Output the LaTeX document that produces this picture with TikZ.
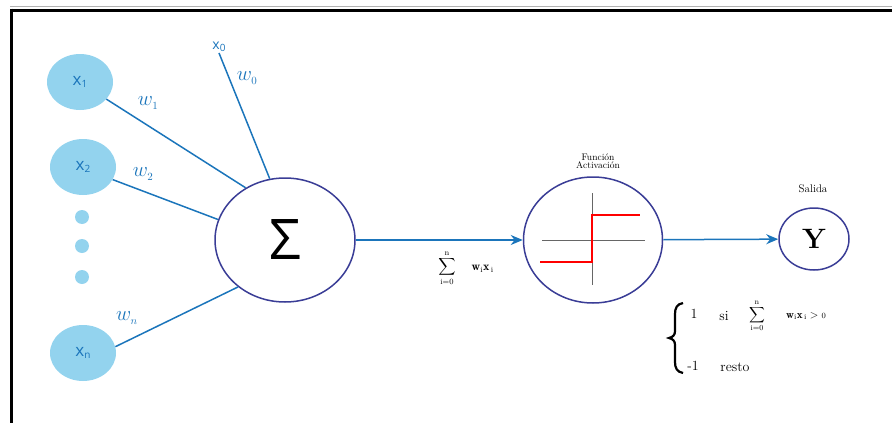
\documentclass[tikz,border=0pt]{standalone}
\usepackage{fontspec}
\usepackage{amsmath}
\usetikzlibrary{shapes.geometric, arrows.meta}
\newfontfamily\lblfont{Open Sans}
\definecolor{inblue}{HTML}{93D3EE}
\definecolor{lnblue}{HTML}{1B75BB}
\definecolor{cirblue}{HTML}{3A3D96}
\newcommand{\entx}[1]{x\raisebox{-2.5pt}{\fontsize{10}{10}\selectfont #1}}
\newcommand{\sumat}{\displaystyle\sum_{\mathrm{i=0}}^{\mathrm{n}}}
\newcommand{\wx}{\mathbf{w}_{\mathrm{i}}\mathbf{x}_{\mathrm{\,i}}}

\begin{document}
\begin{tikzpicture}[x=1pt, y=-1pt, >={Stealth[length=12pt, width=10pt]}, every node/.style={font=\small},
    entrada/.style={ellipse, fill=inblue, minimum width=66pt, minimum height=56pt, inner sep=0pt,
      text=lnblue, font=\lblfont\fontsize{17}{17}\selectfont},
    nodo/.style={ellipse, draw=cirblue, line width=1.5pt, inner sep=0pt},
    peso/.style={text=lnblue, font=\fontsize{22}{22}\selectfont},
    enlace/.style={lnblue, line width=1.5pt},
    rotulo/.style={font=\fontsize{9.5}{9}\selectfont, align=center},
    regla/.style={font=\fontsize{14}{14}\selectfont, inner sep=1pt}]

    \useasboundingbox (0,0) rectangle (892,423);

    % marco
    \draw[gray!60, line width=1.2pt] (10,6.5) -- (892,6.5);
    \draw[black, line width=3pt] (10,10) -- (892,10);
    \draw[black, line width=3pt] (11.5,8.5) -- (11.5,423);

    % entradas
    \node[entrada] (x1) at (80,82) {\entx{1}};
    \node[entrada] (x2) at (83,167) {\entx{2}};
    \node[entrada] (xn) at (83,353) {\entx{n}};
    \foreach \yy in {217,246,277}
      \fill[inblue] (82,\yy) circle (7pt);
    \node[text=lnblue, font=\lblfont\fontsize{14}{14}\selectfont, inner sep=1pt] (x0) at (219,47)
      {x\raisebox{-2pt}{\fontsize{10}{10}\selectfont 0}};

    % sumatorio, activacion y salida
    \node[nodo, minimum width=140pt, minimum height=124pt] (suma) at (285,240)
      {\lblfont\fontsize{56}{56}\selectfont Σ};
    \node[nodo, minimum width=139pt, minimum height=126pt] (act) at (593,240) {};
    \node[nodo, minimum width=70pt, minimum height=62pt] (sal) at (814,239)
      {\fontsize{28}{28}\selectfont\bfseries Y};

    % pesos
    \draw[enlace] (x0.south) -- (suma.104);
    \draw[enlace] (x1.-33) -- (suma.127);
    \draw[enlace] (x2.-23) -- (suma.163);
    \draw[enlace] (xn.11) -- (suma.225);
    \node[peso] (w0) at (247,78) {$w_{\scriptscriptstyle 0}$};
    \node[peso] (w1) at (148,103) {$w_{\scriptscriptstyle 1}$};
    \node[peso] (w2) at (143,174) {$w_{\scriptscriptstyle 2}$};
    \node[peso] (wn) at (127,318) {$w_{\scriptscriptstyle n}$};

    % flechas
    \draw[enlace, ->] (suma) -- (act);
    \draw[enlace, ->] (act) -- (sal);

    % funcion escalon
    \draw[gray!80!black, line width=0.8pt] (542,240) -- (645,240);
    \draw[gray!80!black, line width=0.8pt] (592,193) -- (592,285);
    \draw[red, line width=2.6pt] (540,262) -- (592,262) -- (592,215) -- (640,215);

    % textos
    \node[rotulo] (tact) at (598,161) {Función\\[-1pt]Activación};
    \node[font=\fontsize{11}{11}\selectfont] (tsal) at (813,189) {Salida};
    \node[font=\fontsize{12}{12}\selectfont] (tsum) at (466,268) {$\sumat\hspace{14pt}\wx$};

    % regla de salida
    \draw[line width=2.2pt] (683,303) .. controls (677,304) and (675,308) .. (675,314) -- (675,331)
      .. controls (675,335) and (673,337) .. (669,338) .. controls (673,339) and (675,341) .. (675,345)
      -- (675,362) .. controls (675,368) and (677,372) .. (683,373);
    \node[regla] (uno) at (694,314) {1};
    \node[regla] (si) at (724,316) {si};
    \node[font=\fontsize{11}{11}\selectfont, inner sep=0pt] (sum2) at (757,316) {$\sumat$};
    \node[font=\fontsize{11}{11}\selectfont, inner sep=1pt] (wx2) at (806,316) {$\wx > {\scriptstyle 0}$};
    \node[regla] (menos) at (693,366) {-1};
    \node[regla] (resto) at (735,367) {resto};

\end{tikzpicture}
\end{document}
